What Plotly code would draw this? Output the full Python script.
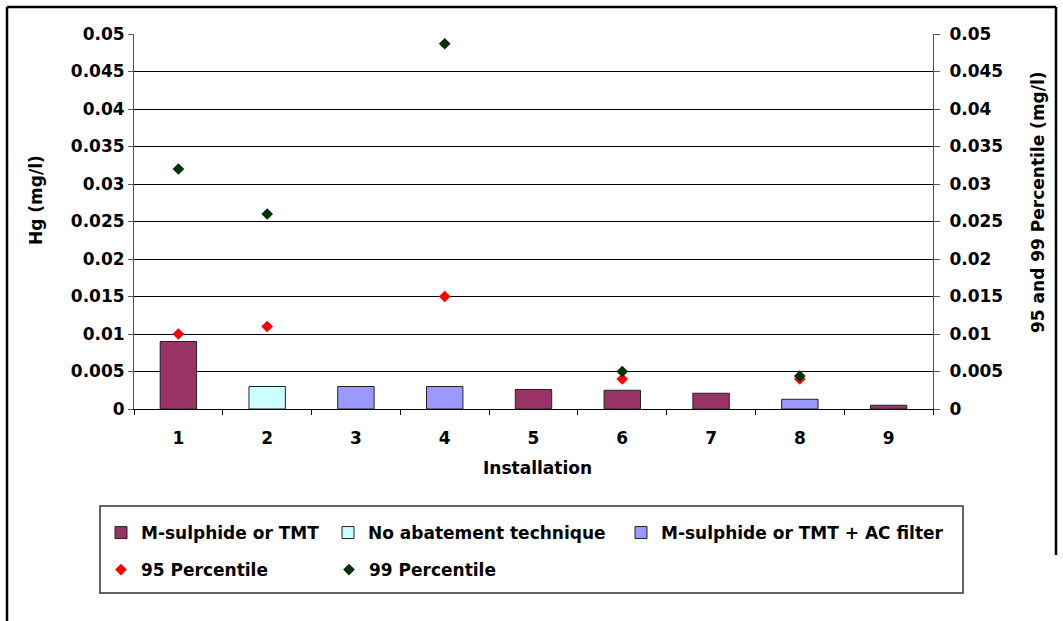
import plotly.graph_objects as go

installations = ["1", "2", "3", "4", "5", "6", "7", "8", "9"]

# Bar series (Hg mg/l), by abatement technique
msulphide_x = ["1", "5", "6", "7", "9"]
msulphide_y = [0.009, 0.0026, 0.0025, 0.0021, 0.0005]
noabate_x = ["2"]
noabate_y = [0.003]
acfilter_x = ["3", "4", "8"]
acfilter_y = [0.003, 0.003, 0.0013]

# Percentiles (mg/l)
p95_x = ["1", "2", "4", "6", "8"]
p95_y = [0.010, 0.011, 0.015, 0.004, 0.004]
p99_x = ["1", "2", "4", "6", "8"]
p99_y = [0.032, 0.026, 0.0487, 0.005, 0.0044]

y_ticks = [0, 0.005, 0.01, 0.015, 0.02, 0.025, 0.03, 0.035, 0.04, 0.045, 0.05]
y_ticktext = ["0", "0.005", "0.01", "0.015", "0.02", "0.025", "0.03", "0.035", "0.04", "0.045", "0.05"]

W, H = 1063, 621
L, R, T, B = 134, 130, 34, 212
PW, PH = W - L - R, H - T - B


def px(X):
    return (X - L) / PW


def py(Y):
    return (H - B - Y) / PH


FONT = "DejaVu Sans, Arial, sans-serif"
FS = 17
bar_line = dict(color="#222222", width=1)

fig = go.Figure()
fig.add_trace(go.Bar(x=msulphide_x, y=msulphide_y, name="M-sulphide or TMT",
                     marker=dict(color="#993366", line=bar_line), legend="legend"))
fig.add_trace(go.Bar(x=noabate_x, y=noabate_y, name="No abatement technique",
                     marker=dict(color="#CCFFFF", line=bar_line), legend="legend4"))
fig.add_trace(go.Bar(x=acfilter_x, y=acfilter_y, name="M-sulphide or TMT + AC filter",
                     marker=dict(color="#9999FF", line=bar_line), legend="legend3"))
fig.add_trace(go.Scatter(x=p95_x, y=p95_y, name="95 Percentile", mode="markers", yaxis="y2",
                         marker=dict(symbol="diamond", size=9, color="#FF0000"), legend="legend2"))
fig.add_trace(go.Scatter(x=p99_x, y=p99_y, name="99 Percentile", mode="markers", yaxis="y2",
                         marker=dict(symbol="diamond", size=9, color="#003300"), legend="legend2"))

tickfont = dict(family=FONT, size=FS, color="black", weight="bold")
legfont = dict(family=FONT, size=FS, color="black", weight="bold")


def leg(xpix, ypix, **kw):
    return dict(orientation="h", x=px(xpix), y=py(ypix), xanchor="left", yanchor="middle",
                font=legfont, bgcolor="rgba(0,0,0,0)", borderwidth=0, traceorder="normal", **kw)


fig.update_layout(
    width=W, height=H,
    margin=dict(l=L, r=R, t=T, b=B),
    paper_bgcolor="white", plot_bgcolor="white",
    barmode="overlay", bargap=0.59,
    font=dict(family=FONT, size=FS, color="black"),
    xaxis=dict(type="category", categoryorder="array", categoryarray=installations,
               tickson="boundaries", ticks="outside", ticklen=5, tickcolor="black",
               showline=True, linecolor="black", linewidth=1, showgrid=False,
               tickfont=tickfont, range=[-0.5, 8.5], ticklabelstandoff=14),
    yaxis=dict(range=[0, 0.05], tickvals=y_ticks, ticktext=y_ticktext,
               ticks="outside", ticklen=5, tickcolor="#555555",
               showline=True, linecolor="#555555", linewidth=1,
               showgrid=True, gridcolor="black", gridwidth=1,
               zeroline=False, tickfont=tickfont),
    yaxis2=dict(range=[0, 0.05], tickvals=y_ticks, ticktext=y_ticktext, overlaying="y", side="right",
                ticks="outside", ticklen=6, tickcolor="#555555",
                showline=True, linecolor="#555555", linewidth=1,
                showgrid=False, zeroline=False, tickfont=tickfont, ticklabelstandoff=6),
    legend=leg(101, 533),
    legend4=leg(328, 533),
    legend3=leg(621, 533),
    legend2=leg(101, 570, entrywidth=183),
    showlegend=True,
)

fig.add_annotation(text="<b>Hg (mg/l)</b>", xref="paper", yref="paper", x=px(36), y=py(200),
                   xanchor="center", yanchor="middle",
                   textangle=-90, showarrow=False, font=dict(family=FONT, size=FS, color="black"))
fig.add_annotation(text="<b>95 and 99 Percentile (mg/l)</b>", xref="paper", yref="paper",
                   x=px(1038), y=py(202), xanchor="center", yanchor="middle",
                   textangle=-90, showarrow=False,
                   font=dict(family=FONT, size=FS, color="black"))
fig.add_annotation(text="<b>Installation</b>", xref="paper", yref="paper", x=px(537), y=py(468),
                   xanchor="center", yanchor="middle",
                   showarrow=False, font=dict(family=FONT, size=FS, color="black"))

# legend box
fig.add_shape(type="rect", xref="paper", yref="paper", x0=px(100), x1=px(963), y0=py(593), y1=py(506),
              line=dict(color="#333333", width=1.5), layer="below")
# outer frame
fig.add_shape(type="line", xref="paper", yref="paper", x0=px(7), x1=px(7), y0=py(7), y1=py(640),
              line=dict(color="black", width=2.5))
fig.add_shape(type="line", xref="paper", yref="paper", x0=px(7), x1=px(1056), y0=py(7), y1=py(7),
              line=dict(color="black", width=2.5))
fig.add_shape(type="line", xref="paper", yref="paper", x0=px(1056), x1=px(1056), y0=py(7), y1=py(555),
              line=dict(color="black", width=2.5))

fig.write_html("out.html", config={"displayModeBar": False},
               post_script="document.body.style.margin='0';")
